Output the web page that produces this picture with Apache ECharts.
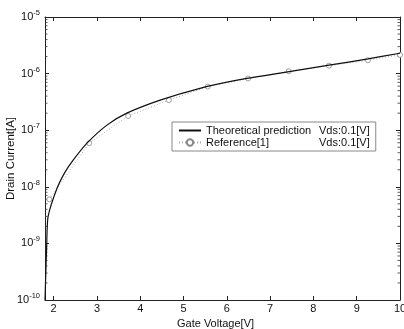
<!DOCTYPE html>
<html>
<head>
<meta charset="utf-8">
<script src="https://cdn.jsdelivr.net/npm/echarts@6/dist/echarts.min.js"></script>
<style>html,body{margin:0;padding:0;background:#fff}#c{width:404px;height:329px}</style>
</head>
<body>
<div id="c"></div>
<script>
// Theoretical prediction (Gate voltage, drain current)
var theoX = [1.8, 1.84, 1.87, 2.08, 2.26, 2.45, 2.77, 3.23, 3.69, 4.46, 5.38, 6.3, 7.23, 8.36, 9.26, 10];
var theoY = [1e-10, 1e-9, 2.95e-9, 9.5e-9, 1.8e-8, 2.95e-8, 5.9e-8, 1.23e-7, 2.0e-7, 3.4e-7, 5.5e-7, 7.8e-7, 1.02e-6, 1.41e-6, 1.82e-6, 2.29e-6];
// Reference[1]
var refX = [1.9, 2.82, 3.72, 4.66, 5.56, 6.49, 7.43, 8.36, 9.26, 10.0];
var refY = [6.0e-9, 5.9e-8, 1.78e-7, 3.4e-7, 5.9e-7, 8.2e-7, 1.1e-6, 1.38e-6, 1.72e-6, 2.14e-6];
var xTicks = [2, 3, 4, 5, 6, 7, 8, 9, 10];
var legendNames = ['Theoretical prediction', 'Reference[1]'];
var legendCond = ['Vds:0.1[V]', 'Vds:0.1[V]'];

var xMin = 1.8, xMax = 10, yMin = 1e-10, yMax = 1e-5;
var minorVals = [];
for (var e = -10; e < -5; e++) for (var m = 2; m <= 9; m++) minorVals.push(m * Math.pow(10, e));

function zip(a, b) { return a.map(function (v, i) { return [v, b[i]]; }); }

var font = '"Liberation Sans", Arial, sans-serif';
var chart = echarts.init(document.getElementById('c'));
chart.setOption({
  animation: false,
  backgroundColor: '#fff',
  grid: { left: 45, right: 4, top: 17, bottom: 29, outerBoundsMode: 'none', containLabel: false },
  legend: {
    data: [
      { name: legendNames[0], itemStyle: { opacity: 0 } },
      { name: legendNames[1] }
    ],
    orient: 'vertical', left: 172, top: 122,
    backgroundColor: '#fff', borderColor: '#888', borderWidth: 1,
    padding: [3, 6, 3, 6], itemGap: 1, itemWidth: 22, itemHeight: 8,
    textStyle: { fontFamily: font, fontSize: 11, color: '#111',
      rich: { n: { width: 113, fontFamily: font, fontSize: 11, color: '#111' }, v: { fontFamily: font, fontSize: 11, color: '#111' } } },
    formatter: function (n) { return '{n|' + n + '}{v|' + legendCond[legendNames.indexOf(n)] + '}'; }
  },
  xAxis: [{
    type: 'value', min: xMin, max: xMax, position: 'bottom',
    name: 'Gate Voltage[V]', nameLocation: 'middle', nameGap: 18, nameMoveOverlap: false,
    nameTextStyle: { fontFamily: font, fontSize: 11, color: '#111', padding: [0, 14, 0, 0] },
    axisLine: { lineStyle: { color: '#222', width: 1 } },
    axisTick: { inside: true, length: 4, customValues: xTicks, lineStyle: { color: '#222' } },
    axisLabel: { customValues: xTicks, margin: 3, fontFamily: font, fontSize: 11, color: '#111' },
    splitLine: { show: false }
  }, {
    type: 'value', min: xMin, max: xMax, position: 'top',
    axisLine: { lineStyle: { color: '#222', width: 1 } },
    axisTick: { inside: true, length: 4, customValues: xTicks, lineStyle: { color: '#222' } },
    axisLabel: { show: false }, splitLine: { show: false }
  }],
  yAxis: [{
    type: 'log', min: yMin, max: yMax, logBase: 10, position: 'left',
    name: 'Drain Current[A]', nameLocation: 'middle', nameGap: 28, nameMoveOverlap: false,
    nameTextStyle: { fontFamily: font, fontSize: 11.5, color: '#111' },
    axisLine: { show: true, lineStyle: { color: '#222', width: 1 } },
    axisTick: { inside: true, length: 4, lineStyle: { color: '#222' } },
    axisLabel: {
      margin: 5, fontFamily: font, color: '#111',
      formatter: function (v) { return '{b|10}{e|' + Math.round(Math.log10(v)) + '}'; },
      rich: { b: { fontFamily: font, fontSize: 11, color: '#111' }, e: { fontFamily: font, fontSize: 7.5, color: '#111', verticalAlign: 'top', padding: [0, 0, 8, 0] } }
    },
    splitLine: { show: false }
  }, {
    type: 'log', min: yMin, max: yMax, logBase: 10, position: 'right',
    axisLine: { show: true, lineStyle: { color: '#222', width: 1 } },
    axisTick: { inside: true, length: 4, lineStyle: { color: '#222' } },
    axisLabel: { show: false }, splitLine: { show: false }
  }],
  series: [{
    name: 'Reference[1]', type: 'line', data: zip(refX, refY),
    symbol: 'circle', symbolSize: 5, showSymbol: true,
    lineStyle: { color: '#aaa', width: 1, type: [1, 2] },
    itemStyle: { color: '#fff', borderWidth: 0.8, borderColor: '#888' }, z: 2
  }, {
    name: 'Theoretical prediction', type: 'line', data: zip(theoX, theoY),
    showSymbol: false, symbol: 'none', smooth: 0.2,
    lineStyle: { color: '#111', width: 1.2 }, itemStyle: { color: '#111' }, z: 3
  }, {
    type: 'custom', silent: true, clip: false,
    data: minorVals.map(function (v) { return [xMin, v]; }),
    renderItem: function (params, api) {
      var l = api.coord([xMin, api.value(1)]);
      var r = api.coord([xMax, api.value(1)]);
      var st = { stroke: '#333', lineWidth: 0.8 };
      return { type: 'group', children: [
        { type: 'line', shape: { x1: l[0], y1: l[1], x2: l[0] + 2.5, y2: l[1] }, style: st },
        { type: 'line', shape: { x1: r[0], y1: r[1], x2: r[0] - 2.5, y2: r[1] }, style: st }
      ] };
    }
  }]
});
</script>
</body>
</html>
